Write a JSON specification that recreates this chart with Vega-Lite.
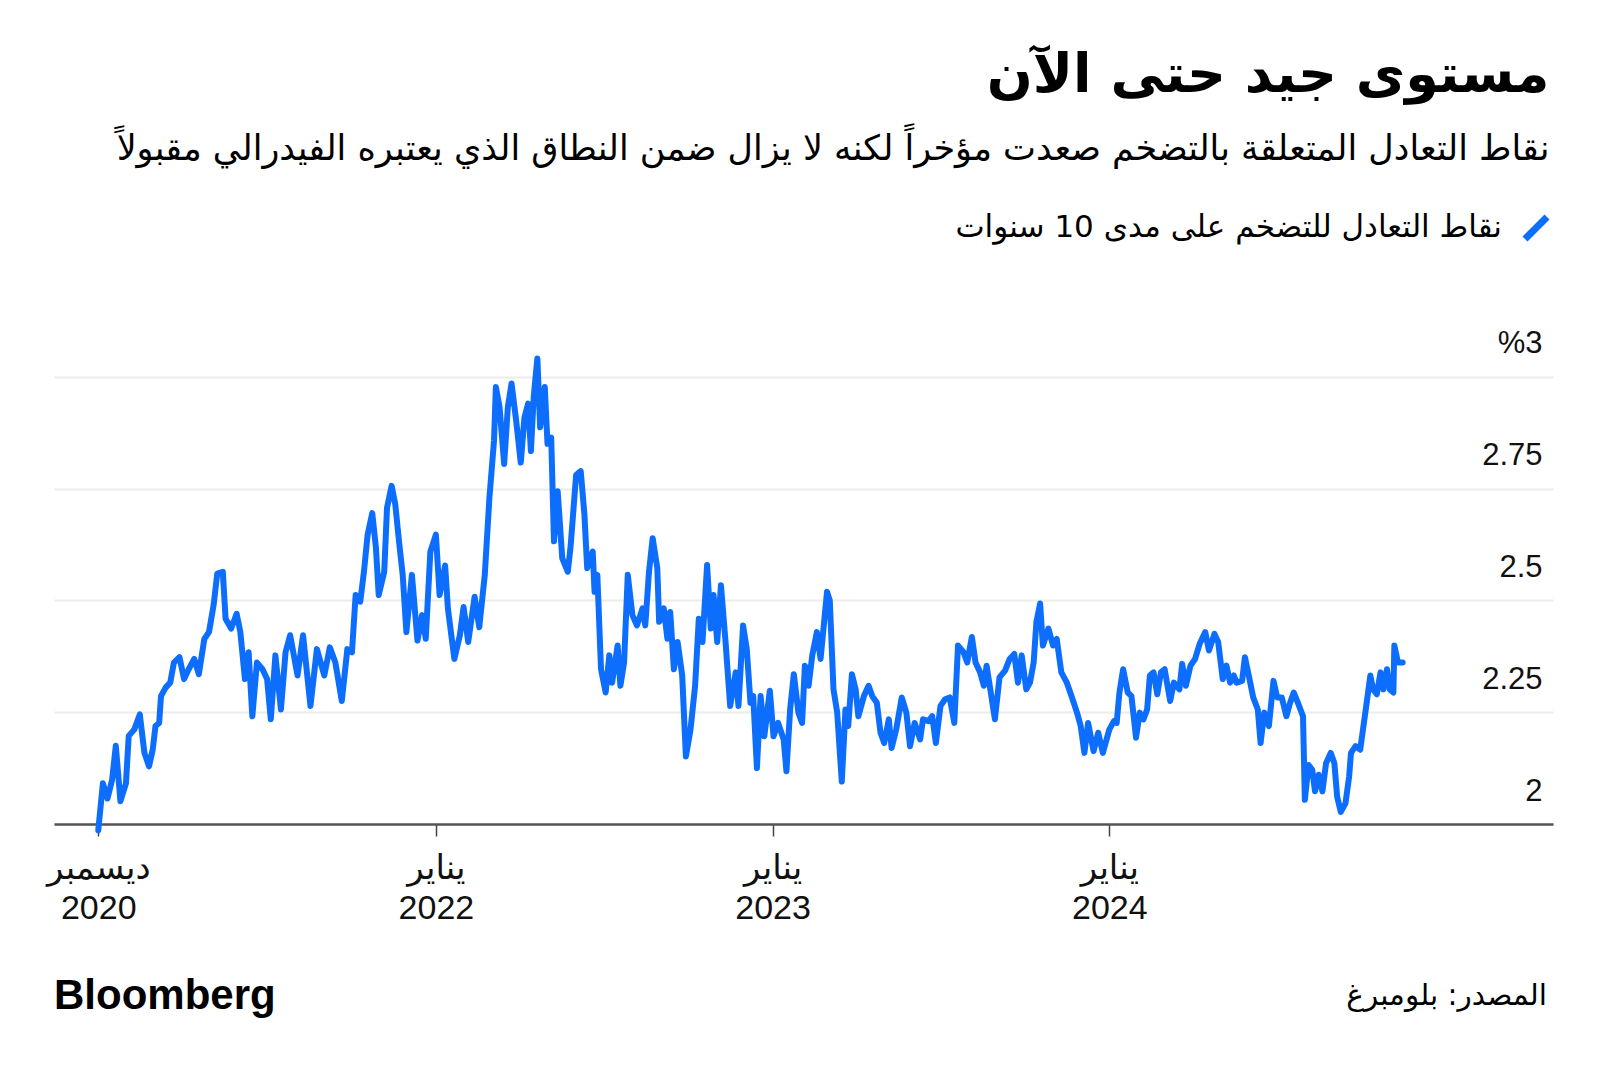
{
  "$schema": "https://vega.github.io/schema/vega-lite/v6.json",
  "background": "white",
  "padding": {"left": 46, "right": 48, "top": 48, "bottom": 10},
  "title": {
    "text": "مستوى جيد حتى الآن",
    "subtitle": "نقاط التعادل المتعلقة بالتضخم صعدت مؤخراً لكنه لا يزال ضمن النطاق الذي يعتبره الفيدرالي مقبولاً",
    "anchor": "end",
    "dx": -12,
    "font": "DejaVu Sans",
    "fontSize": 54,
    "fontWeight": "bold",
    "color": "#000000",
    "subtitleFont": "DejaVu Sans",
    "subtitleFontSize": 35,
    "subtitleColor": "#000000",
    "subtitlePadding": 29,
    "offset": 46
  },
  "spacing": 50,
  "config": {"view": {"stroke": null}},
  "vconcat": [
    {
      "width": 1499,
      "height": 492,
      "data": {"values": [
        {"date":"2020-12-31","value":1.986},
        {"date":"2021-01-05","value":2.091},
        {"date":"2021-01-10","value":2.057},
        {"date":"2021-01-15","value":2.099},
        {"date":"2021-01-19","value":2.175},
        {"date":"2021-01-24","value":2.051},
        {"date":"2021-01-30","value":2.091},
        {"date":"2021-02-02","value":2.197},
        {"date":"2021-02-08","value":2.211},
        {"date":"2021-02-14","value":2.245},
        {"date":"2021-02-19","value":2.159},
        {"date":"2021-02-24","value":2.129},
        {"date":"2021-02-28","value":2.166},
        {"date":"2021-03-03","value":2.219},
        {"date":"2021-03-07","value":2.226},
        {"date":"2021-03-09","value":2.286},
        {"date":"2021-03-14","value":2.305},
        {"date":"2021-03-19","value":2.316},
        {"date":"2021-03-23","value":2.361},
        {"date":"2021-03-29","value":2.373},
        {"date":"2021-04-03","value":2.324},
        {"date":"2021-04-08","value":2.346},
        {"date":"2021-04-14","value":2.369},
        {"date":"2021-04-19","value":2.335},
        {"date":"2021-04-25","value":2.414},
        {"date":"2021-04-30","value":2.429},
        {"date":"2021-05-05","value":2.489},
        {"date":"2021-05-09","value":2.560},
        {"date":"2021-05-15","value":2.564},
        {"date":"2021-05-18","value":2.459},
        {"date":"2021-05-24","value":2.437},
        {"date":"2021-05-30","value":2.470},
        {"date":"2021-06-03","value":2.429},
        {"date":"2021-06-08","value":2.324},
        {"date":"2021-06-12","value":2.384},
        {"date":"2021-06-16","value":2.241},
        {"date":"2021-06-21","value":2.361},
        {"date":"2021-06-27","value":2.346},
        {"date":"2021-07-02","value":2.324},
        {"date":"2021-07-06","value":2.234},
        {"date":"2021-07-11","value":2.377},
        {"date":"2021-07-17","value":2.256},
        {"date":"2021-07-22","value":2.384},
        {"date":"2021-07-27","value":2.422},
        {"date":"2021-08-04","value":2.332},
        {"date":"2021-08-10","value":2.422},
        {"date":"2021-08-18","value":2.264},
        {"date":"2021-08-25","value":2.391},
        {"date":"2021-09-02","value":2.332},
        {"date":"2021-09-08","value":2.395},
        {"date":"2021-09-14","value":2.361},
        {"date":"2021-09-21","value":2.275},
        {"date":"2021-09-27","value":2.391},
        {"date":"2021-10-02","value":2.384},
        {"date":"2021-10-06","value":2.512},
        {"date":"2021-10-11","value":2.497},
        {"date":"2021-10-15","value":2.564},
        {"date":"2021-10-19","value":2.647},
        {"date":"2021-10-24","value":2.695},
        {"date":"2021-10-28","value":2.617},
        {"date":"2021-10-31","value":2.512},
        {"date":"2021-11-06","value":2.564},
        {"date":"2021-11-09","value":2.707},
        {"date":"2021-11-14","value":2.756},
        {"date":"2021-11-18","value":2.714},
        {"date":"2021-11-22","value":2.632},
        {"date":"2021-11-26","value":2.557},
        {"date":"2021-11-30","value":2.429},
        {"date":"2021-12-06","value":2.557},
        {"date":"2021-12-12","value":2.410},
        {"date":"2021-12-17","value":2.467},
        {"date":"2021-12-21","value":2.414},
        {"date":"2021-12-26","value":2.609},
        {"date":"2022-01-01","value":2.647},
        {"date":"2022-01-05","value":2.512},
        {"date":"2022-01-11","value":2.578},
        {"date":"2022-01-14","value":2.482},
        {"date":"2022-01-21","value":2.369},
        {"date":"2022-01-27","value":2.422},
        {"date":"2022-01-31","value":2.485},
        {"date":"2022-02-05","value":2.407},
        {"date":"2022-02-12","value":2.508},
        {"date":"2022-02-17","value":2.440},
        {"date":"2022-02-23","value":2.557},
        {"date":"2022-02-28","value":2.729},
        {"date":"2022-03-05","value":2.857},
        {"date":"2022-03-07","value":2.977},
        {"date":"2022-03-11","value":2.932},
        {"date":"2022-03-16","value":2.805},
        {"date":"2022-03-20","value":2.932},
        {"date":"2022-03-24","value":2.985},
        {"date":"2022-03-29","value":2.902},
        {"date":"2022-04-03","value":2.808},
        {"date":"2022-04-07","value":2.909},
        {"date":"2022-04-11","value":2.940},
        {"date":"2022-04-14","value":2.834},
        {"date":"2022-04-17","value":2.954},
        {"date":"2022-04-21","value":3.041},
        {"date":"2022-04-24","value":2.887},
        {"date":"2022-04-29","value":2.977},
        {"date":"2022-05-02","value":2.850},
        {"date":"2022-05-06","value":2.864},
        {"date":"2022-05-09","value":2.632},
        {"date":"2022-05-13","value":2.744},
        {"date":"2022-05-18","value":2.594},
        {"date":"2022-05-24","value":2.564},
        {"date":"2022-05-27","value":2.620},
        {"date":"2022-06-02","value":2.780},
        {"date":"2022-06-07","value":2.789},
        {"date":"2022-06-11","value":2.692},
        {"date":"2022-06-14","value":2.572},
        {"date":"2022-06-20","value":2.609},
        {"date":"2022-06-22","value":2.519},
        {"date":"2022-06-25","value":2.557},
        {"date":"2022-06-29","value":2.346},
        {"date":"2022-07-04","value":2.294},
        {"date":"2022-07-08","value":2.377},
        {"date":"2022-07-11","value":2.316},
        {"date":"2022-07-17","value":2.399},
        {"date":"2022-07-20","value":2.309},
        {"date":"2022-07-24","value":2.361},
        {"date":"2022-07-28","value":2.557},
        {"date":"2022-08-02","value":2.467},
        {"date":"2022-08-07","value":2.444},
        {"date":"2022-08-13","value":2.482},
        {"date":"2022-08-16","value":2.444},
        {"date":"2022-08-20","value":2.564},
        {"date":"2022-08-24","value":2.639},
        {"date":"2022-08-29","value":2.572},
        {"date":"2022-08-31","value":2.452},
        {"date":"2022-09-05","value":2.482},
        {"date":"2022-09-09","value":2.414},
        {"date":"2022-09-12","value":2.474},
        {"date":"2022-09-16","value":2.346},
        {"date":"2022-09-20","value":2.407},
        {"date":"2022-09-25","value":2.332},
        {"date":"2022-09-29","value":2.151},
        {"date":"2022-10-04","value":2.211},
        {"date":"2022-10-09","value":2.309},
        {"date":"2022-10-13","value":2.459},
        {"date":"2022-10-17","value":2.407},
        {"date":"2022-10-22","value":2.579},
        {"date":"2022-10-26","value":2.437},
        {"date":"2022-10-29","value":2.512},
        {"date":"2022-11-02","value":2.407},
        {"date":"2022-11-06","value":2.534},
        {"date":"2022-11-11","value":2.407},
        {"date":"2022-11-16","value":2.264},
        {"date":"2022-11-22","value":2.339},
        {"date":"2022-11-25","value":2.264},
        {"date":"2022-11-30","value":2.444},
        {"date":"2022-12-04","value":2.391},
        {"date":"2022-12-08","value":2.271},
        {"date":"2022-12-11","value":2.286},
        {"date":"2022-12-15","value":2.125},
        {"date":"2022-12-19","value":2.286},
        {"date":"2022-12-23","value":2.196},
        {"date":"2022-12-29","value":2.298},
        {"date":"2023-01-02","value":2.196},
        {"date":"2023-01-07","value":2.226},
        {"date":"2023-01-13","value":2.189},
        {"date":"2023-01-16","value":2.118},
        {"date":"2023-01-20","value":2.256},
        {"date":"2023-01-24","value":2.335},
        {"date":"2023-01-29","value":2.249},
        {"date":"2023-02-02","value":2.226},
        {"date":"2023-02-05","value":2.354},
        {"date":"2023-02-09","value":2.309},
        {"date":"2023-02-13","value":2.377},
        {"date":"2023-02-18","value":2.429},
        {"date":"2023-02-22","value":2.369},
        {"date":"2023-03-01","value":2.519},
        {"date":"2023-03-04","value":2.500},
        {"date":"2023-03-08","value":2.301},
        {"date":"2023-03-12","value":2.250},
        {"date":"2023-03-17","value":2.095},
        {"date":"2023-03-21","value":2.256},
        {"date":"2023-03-24","value":2.219},
        {"date":"2023-03-28","value":2.335},
        {"date":"2023-04-01","value":2.301},
        {"date":"2023-04-04","value":2.241},
        {"date":"2023-04-10","value":2.286},
        {"date":"2023-04-15","value":2.309},
        {"date":"2023-04-19","value":2.286},
        {"date":"2023-04-24","value":2.271},
        {"date":"2023-04-28","value":2.204},
        {"date":"2023-05-02","value":2.181},
        {"date":"2023-05-07","value":2.234},
        {"date":"2023-05-10","value":2.170},
        {"date":"2023-05-15","value":2.211},
        {"date":"2023-05-21","value":2.283},
        {"date":"2023-05-26","value":2.249},
        {"date":"2023-05-30","value":2.174},
        {"date":"2023-06-04","value":2.226},
        {"date":"2023-06-10","value":2.189},
        {"date":"2023-06-13","value":2.234},
        {"date":"2023-06-19","value":2.230},
        {"date":"2023-06-23","value":2.241},
        {"date":"2023-06-27","value":2.181},
        {"date":"2023-07-02","value":2.264},
        {"date":"2023-07-07","value":2.279},
        {"date":"2023-07-12","value":2.283},
        {"date":"2023-07-17","value":2.226},
        {"date":"2023-07-21","value":2.399},
        {"date":"2023-07-27","value":2.384},
        {"date":"2023-07-31","value":2.361},
        {"date":"2023-08-05","value":2.418},
        {"date":"2023-08-09","value":2.361},
        {"date":"2023-08-14","value":2.339},
        {"date":"2023-08-18","value":2.309},
        {"date":"2023-08-21","value":2.354},
        {"date":"2023-08-25","value":2.301},
        {"date":"2023-08-30","value":2.234},
        {"date":"2023-09-04","value":2.328},
        {"date":"2023-09-10","value":2.343},
        {"date":"2023-09-15","value":2.369},
        {"date":"2023-09-20","value":2.380},
        {"date":"2023-09-24","value":2.316},
        {"date":"2023-09-28","value":2.377},
        {"date":"2023-10-03","value":2.301},
        {"date":"2023-10-07","value":2.316},
        {"date":"2023-10-11","value":2.361},
        {"date":"2023-10-14","value":2.452},
        {"date":"2023-10-18","value":2.493},
        {"date":"2023-10-21","value":2.399},
        {"date":"2023-10-27","value":2.437},
        {"date":"2023-11-01","value":2.399},
        {"date":"2023-11-05","value":2.414},
        {"date":"2023-11-10","value":2.339},
        {"date":"2023-11-16","value":2.316},
        {"date":"2023-11-21","value":2.286},
        {"date":"2023-11-27","value":2.249},
        {"date":"2023-12-01","value":2.219},
        {"date":"2023-12-05","value":2.159},
        {"date":"2023-12-09","value":2.226},
        {"date":"2023-12-15","value":2.163},
        {"date":"2023-12-20","value":2.204},
        {"date":"2023-12-25","value":2.159},
        {"date":"2024-01-01","value":2.211},
        {"date":"2024-01-06","value":2.230},
        {"date":"2024-01-09","value":2.226},
        {"date":"2024-01-12","value":2.294},
        {"date":"2024-01-16","value":2.346},
        {"date":"2024-01-21","value":2.294},
        {"date":"2024-01-25","value":2.286},
        {"date":"2024-01-30","value":2.193},
        {"date":"2024-02-03","value":2.249},
        {"date":"2024-02-07","value":2.234},
        {"date":"2024-02-11","value":2.256},
        {"date":"2024-02-14","value":2.332},
        {"date":"2024-02-18","value":2.339},
        {"date":"2024-02-22","value":2.290},
        {"date":"2024-02-26","value":2.339},
        {"date":"2024-03-01","value":2.346},
        {"date":"2024-03-07","value":2.275},
        {"date":"2024-03-11","value":2.316},
        {"date":"2024-03-17","value":2.301},
        {"date":"2024-03-20","value":2.358},
        {"date":"2024-03-24","value":2.309},
        {"date":"2024-03-29","value":2.354},
        {"date":"2024-04-03","value":2.369},
        {"date":"2024-04-08","value":2.403},
        {"date":"2024-04-14","value":2.429},
        {"date":"2024-04-18","value":2.388},
        {"date":"2024-04-24","value":2.425},
        {"date":"2024-04-28","value":2.407},
        {"date":"2024-05-03","value":2.324},
        {"date":"2024-05-07","value":2.354},
        {"date":"2024-05-11","value":2.316},
        {"date":"2024-05-15","value":2.332},
        {"date":"2024-05-18","value":2.316},
        {"date":"2024-05-24","value":2.320},
        {"date":"2024-05-27","value":2.373},
        {"date":"2024-06-01","value":2.324},
        {"date":"2024-06-05","value":2.283},
        {"date":"2024-06-10","value":2.256},
        {"date":"2024-06-13","value":2.181},
        {"date":"2024-06-17","value":2.249},
        {"date":"2024-06-22","value":2.219},
        {"date":"2024-06-27","value":2.320},
        {"date":"2024-07-01","value":2.283},
        {"date":"2024-07-06","value":2.283},
        {"date":"2024-07-11","value":2.241},
        {"date":"2024-07-15","value":2.271},
        {"date":"2024-07-19","value":2.294},
        {"date":"2024-07-24","value":2.268},
        {"date":"2024-07-29","value":2.241},
        {"date":"2024-07-31","value":2.054},
        {"date":"2024-08-04","value":2.132},
        {"date":"2024-08-08","value":2.121},
        {"date":"2024-08-11","value":2.073},
        {"date":"2024-08-15","value":2.110},
        {"date":"2024-08-19","value":2.073},
        {"date":"2024-08-23","value":2.136},
        {"date":"2024-08-28","value":2.159},
        {"date":"2024-09-01","value":2.136},
        {"date":"2024-09-04","value":2.061},
        {"date":"2024-09-08","value":2.027},
        {"date":"2024-09-13","value":2.046},
        {"date":"2024-09-17","value":2.106},
        {"date":"2024-09-19","value":2.159},
        {"date":"2024-09-24","value":2.174},
        {"date":"2024-09-29","value":2.166},
        {"date":"2024-10-02","value":2.211},
        {"date":"2024-10-07","value":2.286},
        {"date":"2024-10-10","value":2.332},
        {"date":"2024-10-13","value":2.301},
        {"date":"2024-10-17","value":2.290},
        {"date":"2024-10-21","value":2.339},
        {"date":"2024-10-24","value":2.301},
        {"date":"2024-10-28","value":2.346},
        {"date":"2024-10-31","value":2.301},
        {"date":"2024-11-04","value":2.294},
        {"date":"2024-11-05","value":2.399},
        {"date":"2024-11-09","value":2.361},
        {"date":"2024-11-14","value":2.361}
      ]},
      "mark": {"type": "line", "strokeWidth": 6, "strokeJoin": "round", "strokeCap": "round", "clip": false},
      "encoding": {
        "x": {
          "field": "date",
          "type": "temporal",
          "scale": {"type": "utc", "domain": [{"year": 2020, "month": 11, "date": 13, "utc": true}, {"year": 2025, "month": 4, "date": 26, "utc": true}]},
          "axis": {
            "values": [
              {"year": 2020, "month": 12, "date": 31, "utc": true},
              {"year": 2022, "month": 1, "date": 1, "utc": true},
              {"year": 2023, "month": 1, "date": 1, "utc": true},
              {"year": 2024, "month": 1, "date": 1, "utc": true}
            ],
            "labelExpr": "[utcFormat(datum.value, '%m') == '12' ? 'ديسمبر' : 'يناير', utcFormat(datum.value, '%Y')]",
            "title": null,
            "grid": false,
            "domain": true,
            "domainColor": "#555555",
            "domainWidth": 2.5,
            "ticks": true,
            "tickColor": "#444444",
            "tickSize": 12,
            "tickWidth": 1.5,
            "labelFont": "Liberation Sans, DejaVu Sans",
            "labelFontSize": 34,
            "labelColor": "#111111",
            "labelPadding": 15,
            "labelLineHeight": 40,
            "labelBaseline": "top",
            "labelAlign": "center",
            "labelFlush": false,
            "labelOverlap": false
          }
        },
        "y": {
          "field": "value",
          "type": "quantitative",
          "scale": {"domain": [2, 3.1], "zero": false, "nice": false},
          "axis": {
            "orient": "right",
            "values": [2, 2.25, 2.5, 2.75, 3],
            "labelExpr": "datum.value == 3 ? '%3' : toString(datum.value)",
            "title": null,
            "grid": true,
            "gridColor": "#ececec",
            "gridWidth": 2,
            "domain": false,
            "ticks": false,
            "tickSize": 0,
            "labelAlign": "right",
            "labelPadding": -11,
            "labelBaseline": "alphabetic",
            "labelOffset": -24,
            "labelFont": "Liberation Sans",
            "labelFontSize": 31,
            "labelColor": "#111111"
          }
        },
        "color": {
          "datum": "نقاط التعادل للتضخم على مدى 10 سنوات",
          "scale": {"range": ["#0d6efd"]},
          "legend": {
            "orient": "none",
            "legendX": 1466.5,
            "legendY": -119.5,
            "title": null,
            "symbolType": "M-1,1L1,-1",
            "symbolSize": 484,
            "symbolStrokeWidth": 7,
            "symbolStrokeColor": "#0d6efd",
            "labelAlign": "right",
            "labelOffset": -49.5,
            "labelFont": "DejaVu Sans",
            "labelFontSize": 31,
            "labelColor": "#000000",
            "labelLimit": 0
          }
        }
      }
    },
    {
      "width": 1499,
      "height": 40,
      "data": {"values": [
        {"item": "logo", "label": "Bloomberg"},
        {"item": "source", "label": "المصدر: بلومبرغ"}
      ]},
      "encoding": {
        "x": {"field": "item", "type": "nominal", "scale": {"type": "point", "padding": 0, "domain": ["logo", "source"]}, "axis": null},
        "text": {"field": "label"}
      },
      "layer": [
        {
          "transform": [{"filter": "datum.item == 'logo'"}],
          "mark": {"type": "text", "align": "left", "baseline": "middle", "font": "Liberation Sans", "fontWeight": "bold", "fontSize": 42, "color": "#000000"}
        },
        {
          "transform": [{"filter": "datum.item == 'source'"}],
          "mark": {"type": "text", "align": "right", "baseline": "middle", "dx": -6, "font": "DejaVu Sans", "fontSize": 29.5, "color": "#000000"}
        }
      ]
    }
  ]
}
